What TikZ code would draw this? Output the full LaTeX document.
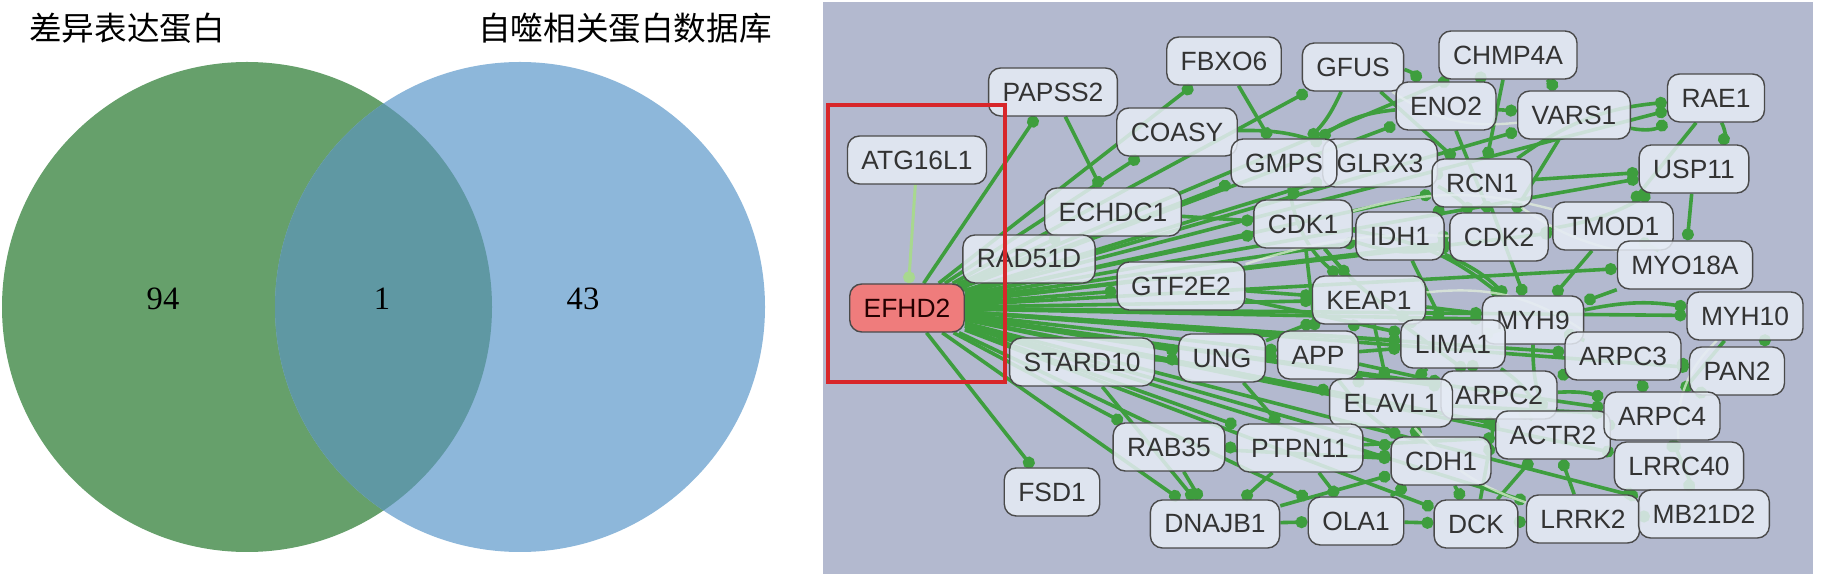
\documentclass[tikz,border=0pt]{standalone}
\usepackage{fontspec}
\setmainfont{Liberation Serif}
\newfontfamily\cjkfont{Noto Sans CJK SC}
\newfontfamily\labelfont{Liberation Sans}
\usetikzlibrary{arrows.meta,backgrounds}
\definecolor{vennGreen}{HTML}{66A06B}
\definecolor{vennBlue}{HTML}{8DB7DA}
\definecolor{vennMix}{HTML}{5F98A3}
\definecolor{panelBg}{HTML}{B3B9CF}
\definecolor{boxFill}{HTML}{E6ECF5}
\definecolor{boxLine}{HTML}{4A4A4A}
\definecolor{linkGreen}{HTML}{3E9E3E}
\definecolor{paleGreen}{HTML}{A8D88F}
\definecolor{hubRed}{HTML}{EF7C7C}
\definecolor{frameRed}{HTML}{D8262A}

\begin{document}
\begin{tikzpicture}[x=0.5pt,y=-0.5pt,
    prot/.style={draw=boxLine,line width=0.7pt,fill=boxFill,fill opacity=0.85,text opacity=1,
                 rounded corners=6pt,minimum height=24pt,inner xsep=7pt,inner ysep=2pt,
                 font=\labelfont\fontsize{13.2}{15}\selectfont,text=black!80},
    hub/.style={prot,fill=hubRed,fill opacity=1,text=black!85!red},
    link/.style={linkGreen,line width=1.8pt,-{Circle[length=6pt]}},
    faint/.style={paleGreen,line width=1.5pt,-{Circle[length=6pt]}},
    ghost/.style={white!70!paleGreen,line width=1.2pt,opacity=0.7},
    setlabel/.style={font=\cjkfont\fontsize{16.3}{18}\selectfont},
    count/.style={font=\fontsize{16.3}{18}\selectfont}]
    \useasboundingbox (0,0) rectangle (1821,576);

    % Venn diagram
    \fill[vennGreen] (247,307) circle[radius=245];
    \fill[vennBlue]  (520,307) circle[radius=245];
    \begin{scope}
        \clip (247,307) circle[radius=245];
        \fill[vennMix] (520,307) circle[radius=245];
    \end{scope}
    \node[setlabel] (degLabel) at (127,28) {差异表达蛋白};
    \node[setlabel] (atgLabel) at (625,28) {自噬相关蛋白数据库};
    \node[count] (onlyDeg) at (163,299) {94};
    \node[count] (both)    at (382,299) {1};
    \node[count] (onlyAtg) at (583,299) {43};

    % network proteins
    \node[prot] (atg)    at (917,160)  {ATG16L1};
    \node[prot] (papss2) at (1053,92)  {PAPSS2};
    \node[prot] (fbxo6)  at (1224,61)  {FBXO6};
    \node[prot] (coasy)  at (1177,132) {COASY};
    \node[prot] (glrx3)  at (1380,163) {GLRX3};
    \node[prot] (gmps)   at (1284,163) {GMPS};
    \node[prot] (gfus)   at (1353,67)  {GFUS};
    \node[prot] (chmp4a) at (1508,55)  {CHMP4A};
    \node[prot] (eno2)   at (1446,106) {ENO2};
    \node[prot] (vars1)  at (1574,115) {VARS1};
    \node[prot] (rae1)   at (1716,98)  {RAE1};
    \node[prot] (usp11)  at (1694,169) {USP11};
    \node[prot] (rcn1)   at (1482,183) {RCN1};
    \node[prot] (echdc1) at (1113,212) {ECHDC1};
    \node[prot] (cdk1)   at (1303,224) {CDK1};
    \node[prot] (idh1)   at (1400,236) {IDH1};
    \node[prot] (cdk2)   at (1499,237) {CDK2};
    \node[prot] (tmod1)  at (1613,226) {TMOD1};
    \node[prot] (myo18a) at (1685,265) {MYO18A};
    \node[prot] (rad51d) at (1029,259) {RAD51D};
    \node[prot] (gtf2e2) at (1181,286) {GTF2E2};
    \node[prot] (keap1)  at (1369,300) {KEAP1};
    \node[prot] (myh9)   at (1533,320) {MYH9};
    \node[prot] (myh10)  at (1745,316) {MYH10};
    \node[prot] (lima1)  at (1453,344) {LIMA1};
    \node[prot] (arpc3)  at (1623,356) {ARPC3};
    \node[prot] (pan2)   at (1737,371) {PAN2};
    \node[prot] (stard10) at (1082,362) {STARD10};
    \node[prot] (ung)    at (1222,358) {UNG};
    \node[prot] (app)    at (1318,355) {APP};
    \node[prot] (arpc2)  at (1499,395) {ARPC2};
    \node[prot] (elavl1) at (1391,403) {ELAVL1};
    \node[prot] (actr2)  at (1553,435) {ACTR2};
    \node[prot] (arpc4)  at (1662,416) {ARPC4};
    \node[prot] (lrrc40) at (1679,466) {LRRC40};
    \node[prot] (cdh1)   at (1441,461) {CDH1};
    \node[prot] (rab35)  at (1169,447) {RAB35};
    \node[prot] (ptpn11) at (1300,448) {PTPN11};
    \node[prot] (fsd1)   at (1052,492) {FSD1};
    \node[prot] (dnajb1) at (1215,524) {DNAJB1};
    \node[prot] (ola1)   at (1356,521) {OLA1};
    \node[prot] (dck)    at (1476,524) {DCK};
    \node[prot] (lrrk2)  at (1583,519) {LRRK2};
    \node[prot] (mb21d2) at (1704,514) {MB21D2};
    \node[hub]  (efhd2)  at (907,308)  {EFHD2};

    % interactions
    \begin{scope}[on background layer]
        \fill[panelBg] (823,2) rectangle (1813,574);
        \draw[faint] (atg) -- (efhd2);
        \foreach \t in {papss2,fbxo6,coasy,gmps,glrx3,gfus,chmp4a,eno2,vars1,rae1,usp11,rcn1,
                        echdc1,cdk1,idh1,cdk2,tmod1,myo18a,rad51d,gtf2e2,keap1,myh9,myh10,lima1,
                        arpc3,pan2,stard10,ung,app,elavl1,arpc2,arpc4,actr2,lrrc40,cdh1,rab35,
                        ptpn11,fsd1,dnajb1,ola1,dck,lrrk2,mb21d2}
            \draw[link] (efhd2) -- (\t);
        \foreach \a/\b/\c in {gfus/gmps/10,eno2/gmps/-15,gfus/eno2/20,fbxo6/gmps/0,coasy/glrx3/10,
                eno2/vars1/0,chmp4a/vars1/10,chmp4a/eno2/0,vars1/rae1/-20,rae1/usp11/30,
                rcn1/usp11/0,cdk2/usp11/-10,rcn1/rae1/15,idh1/rcn1/0,cdk1/cdk2/-15,cdk1/keap1/0,
                keap1/app/10,keap1/lima1/0,app/lima1/0,lima1/myh9/0,myh9/myh10/10,myh9/arpc3/0,
                arpc3/arpc2/0,arpc2/actr2/0,arpc2/arpc4/10,arpc3/arpc4/0,actr2/arpc4/0,
                arpc4/pan2/0,myh10/pan2/40,tmod1/myo18a/0,tmod1/myh9/0,myo18a/myh9/0,
                cdk2/tmod1/0,elavl1/cdh1/0,elavl1/ptpn11/0,app/elavl1/0,ptpn11/cdh1/0,
                ptpn11/dnajb1/0,rab35/dnajb1/0,dnajb1/ola1/0,ola1/cdh1/0,cdh1/dck/0,dck/lrrk2/0,
                lrrk2/actr2/0,lrrk2/mb21d2/0,mb21d2/lrrc40/0,lrrc40/arpc4/0,ung/app/0,
                ung/keap1/0,stard10/ung/0,gtf2e2/keap1/0,echdc1/cdk1/0,idh1/cdk2/0,
                glrx3/rcn1/0,gmps/cdk1/0,ptpn11/ola1/0,dck/actr2/0,cdh1/actr2/0,
                rab35/ptpn11/0,keap1/elavl1/0,lima1/arpc2/0,lima1/elavl1/0,papss2/echdc1/0,
                gtf2e2/lima1/0,cdk1/lima1/-10,idh1/myh9/10,rcn1/myh9/0,eno2/cdk2/0,
                chmp4a/rcn1/0,gfus/rcn1/0,vars1/cdk2/0,usp11/myo18a/0,rae1/tmod1/0,
                cdk1/app/0,stard10/dnajb1/0,rab35/cdh1/0,dnajb1/cdh1/0,ola1/dck/0,
                ptpn11/actr2/0,elavl1/arpc4/0,keap1/myh9/0,app/arpc2/0,dck/arpc2/0,
                lrrk2/lrrc40/0,mb21d2/arpc4/0,arpc3/pan2/0,myh10/arpc4/0,
                gmps/keap1/-20,cdk1/myh9/15,idh1/lima1/0,glrx3/cdk2/10,app/cdh1/-10,
                ung/ptpn11/0,lima1/actr2/15,keap1/arpc2/0,myh9/actr2/-10}
            \draw[link] (\a) to[bend left=\c] (\b);
        \foreach \a/\b/\c in {gfus/vars1/-20,cdk1/tmod1/15,rcn1/myo18a/-10,keap1/arpc3/20,
                elavl1/lrrk2/-15,gtf2e2/cdk2/10,myh10/lrrc40/-25}
            \draw[ghost] (\a) to[bend left=\c] (\b);
    \end{scope}

    % highlight frame
    \draw[frameRed,line width=1.6pt] (828,105) rectangle (1005,382);
\end{tikzpicture}
\end{document}
